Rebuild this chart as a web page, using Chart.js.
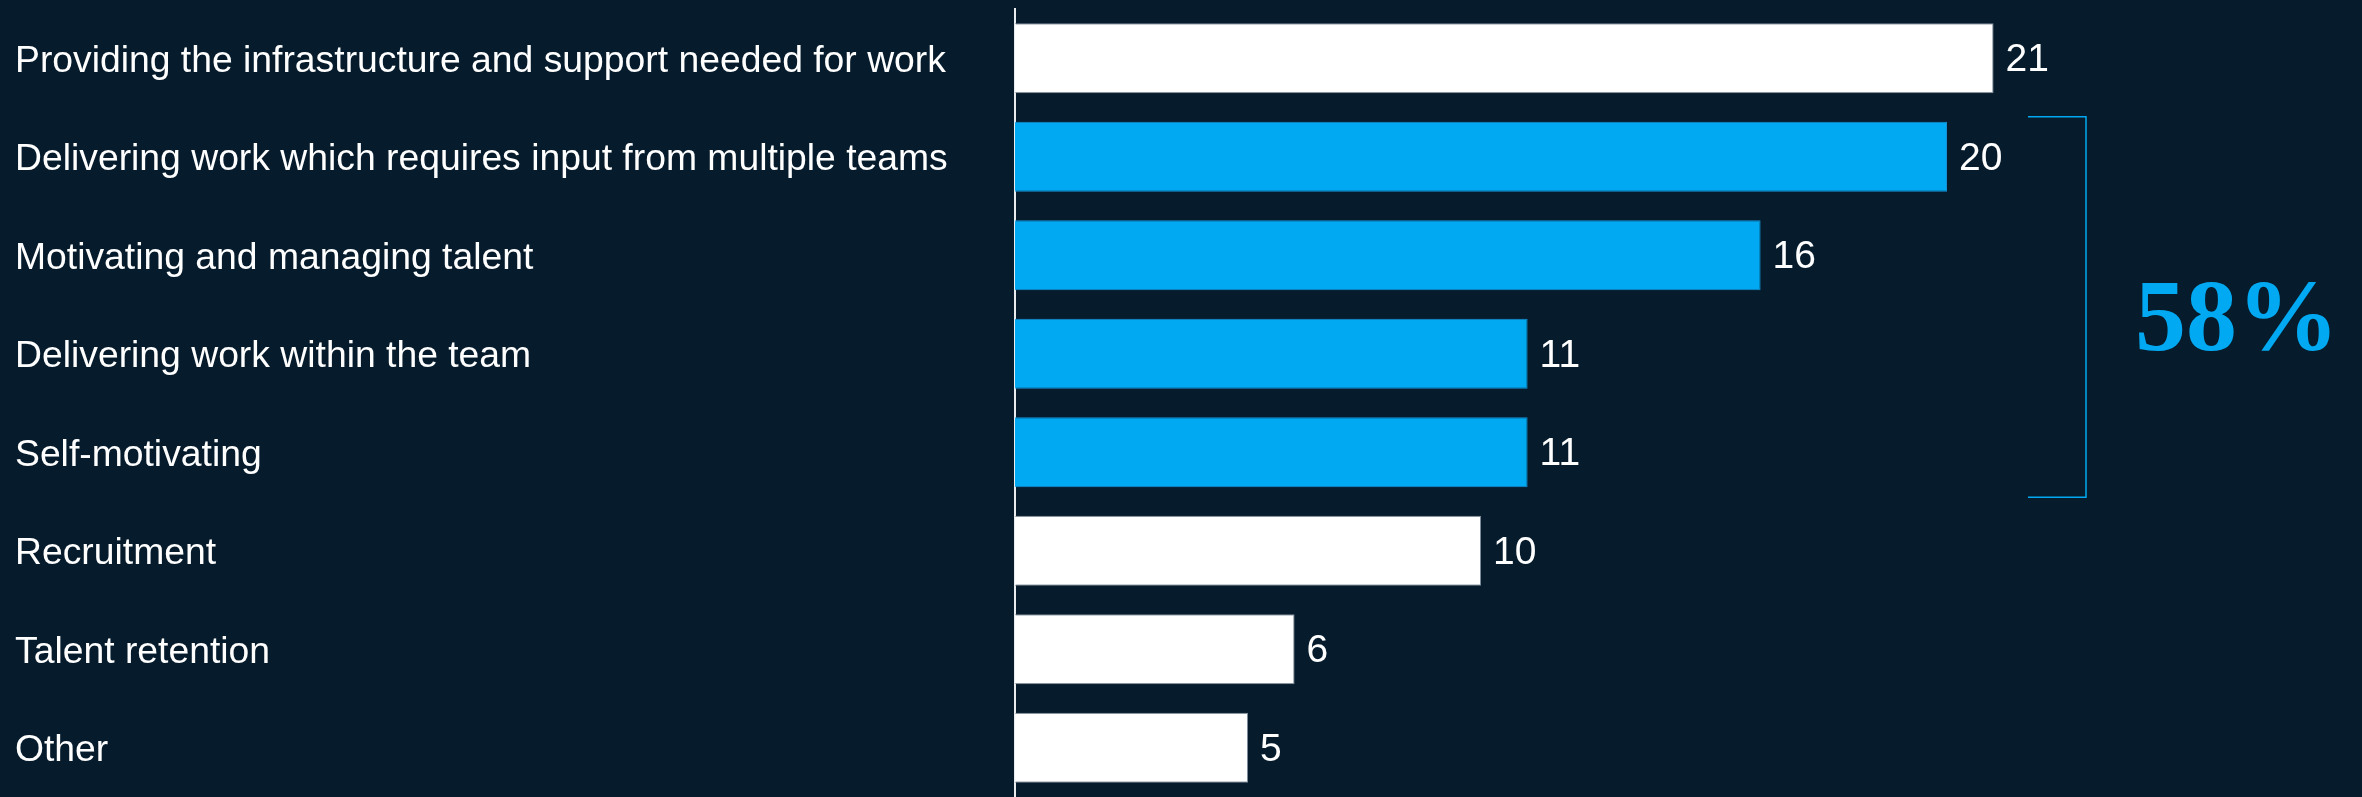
<!DOCTYPE html>
<html>
<head>
<meta charset="utf-8">
<script src="https://cdn.jsdelivr.net/npm/chart.js@4/dist/chart.umd.min.js"></script>
<style>
  html, body { margin: 0; padding: 0; background: #061c2d; }
  #wrap { width: 2362px; height: 797px; }
</style>
</head>
<body>
<div id="wrap"><canvas id="challengeChart"></canvas></div>
<script>
// categories, top to bottom
var categories = [
    'Providing the infrastructure and support needed for work',
    'Delivering work which requires input from multiple teams',
    'Motivating and managing talent',
    'Delivering work within the team',
    'Self-motivating',
    'Recruitment',
    'Talent retention',
    'Other'
];
// share of respondents, %
var values = [21, 20, 16, 11, 11, 10, 6, 5];
// which rows belong to the highlighted group
var highlighted = [false, true, true, true, true, false, false, false];

var WHITE = '#ffffff';
var BLUE = '#00a9f1';

var groupTotal = values.filter(function(v, i){ return highlighted[i]; })
    .reduce(function(a, b){ return a + b; }, 0);

// numbers at the end of each bar
var valueLabels = {
    id: 'valueLabels',
    afterDatasetsDraw: function(chart){
        var ctx = chart.ctx;
        var meta = chart.getDatasetMeta(0);
        ctx.save();
        ctx.fillStyle = WHITE;
        ctx.font = '39px "Liberation Sans", Arial, sans-serif';
        ctx.textAlign = 'left';
        ctx.textBaseline = 'middle';
        meta.data.forEach(function(bar, i){
            ctx.fillText(values[i], bar.x + 12, bar.y + 2);
        });
        ctx.restore();
    }
};

// bracket round the highlighted rows plus the total
var groupBracket = {
    id: 'groupBracket',
    afterDraw: function(chart){
        var ctx = chart.ctx;
        var meta = chart.getDatasetMeta(0);
        var first = highlighted.indexOf(true);
        var last = highlighted.lastIndexOf(true);
        var top = meta.data[first].y - meta.data[first].height / 2 - 5;
        var bottom = meta.data[last].y + meta.data[last].height / 2 + 10;
        var x0 = 2028, x1 = 2086;

        ctx.save();
        ctx.strokeStyle = BLUE;
        ctx.lineWidth = 1.5;
        ctx.beginPath();
        ctx.moveTo(x0, top);
        ctx.lineTo(x1, top);
        ctx.lineTo(x1, bottom);
        ctx.lineTo(x0, bottom);
        ctx.stroke();

        ctx.fillStyle = BLUE;
        ctx.font = 'bold 102px "Liberation Serif", "Times New Roman", serif';
        ctx.textAlign = 'center';
        ctx.textBaseline = 'alphabetic';
        ctx.fillText(groupTotal + '%', 2237, 350);
        ctx.restore();
    }
};

var ctx = document.getElementById('challengeChart').getContext('2d');
var chart = new Chart(ctx, {
    type: 'bar',
    data: {
        labels: categories,
        datasets: [{
            data: values,
            backgroundColor: highlighted.map(function(h){ return h ? BLUE : WHITE; }),
            borderColor: highlighted.map(function(h){ return h ? '#1592d6' : '#7d8b98'; }),
            borderWidth: 1,
            borderSkipped: 'start',
            categoryPercentage: 1,
            barPercentage: 0.71
        }]
    },
    options: {
        indexAxis: 'y',
        responsive: true,
        maintainAspectRatio: false,
        animation: false,
        layout: { padding: { left: 15, top: 9, right: 182, bottom: -4 } },
        plugins: {
            legend: { display: false },
            tooltip: { enabled: false }
        },
        scales: {
            x: {
                min: 0,
                max: 25,
                display: false,
                grid: { display: false }
            },
            y: {
                grid: { display: false, drawTicks: false },
                border: { display: true, color: '#e8ecef', width: 2 },
                ticks: {
                    color: WHITE,
                    crossAlign: 'far',
                    padding: 0,
                    labelOffset: 3,
                    font: { family: '"Liberation Sans", Arial, sans-serif', size: 37.3 }
                },
                afterFit: function(scale){
                    // fixed label column, no extra room for the end labels
                    scale.width = 1000;
                    scale.paddingTop = 0;
                    scale.paddingBottom = 0;
                }
            }
        }
    },
    plugins: [valueLabels, groupBracket]
});
</script>
</body>
</html>
